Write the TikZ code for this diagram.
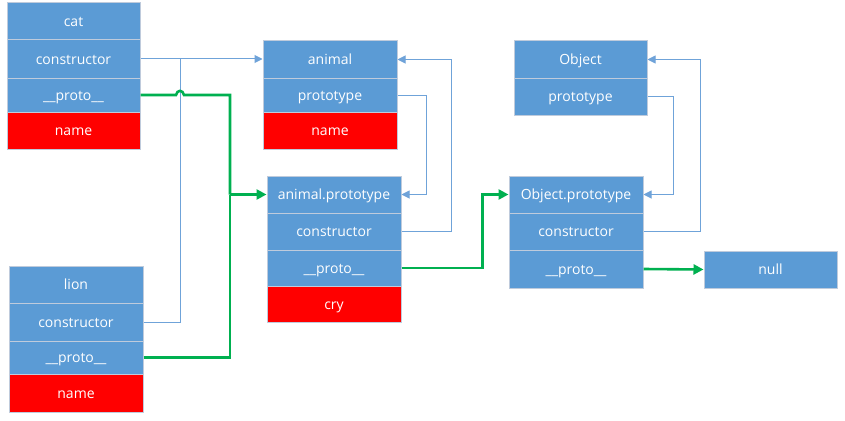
\documentclass[tikz,border=0pt]{standalone}
\usepackage{fontspec}
\setmainfont{Open Sans}
\usetikzlibrary{arrows.meta}
\definecolor{cellblue}{HTML}{5B9BD5}
\definecolor{cellred}{HTML}{FF0000}
\definecolor{cellline}{HTML}{BFCBDC}
\definecolor{linkblue}{HTML}{6FA3D9}
\definecolor{linkgreen}{HTML}{00B050}
\tikzset{
  cell/.style={draw=cellline, line width=1pt, fill=cellblue, text=white, inner sep=0pt,
    font=\fontsize{14}{16}\selectfont, anchor=center, text depth=0pt, text height=10pt},
  bluecell/.style={cell},
  redcell/.style={cell, fill=cellred},
  bluelink/.style={draw=linkblue, line width=1pt},
  bluearrow/.style={bluelink, -{Triangle[length=8pt,width=8pt]}},
  greenlink/.style={draw=linkgreen, line width=2.6pt},
  greenarrow/.style={greenlink, -{Triangle[length=10pt,width=10pt]}},
}
\begin{document}
\begin{tikzpicture}[x=1pt,y=-1pt]
\useasboundingbox[fill=white] (0,0) rectangle (845,420);
% cat
\node[bluecell, minimum width=133pt, minimum height=37pt] (cat) at (73.5,21.5) {cat};
\node[bluecell, minimum width=133pt, minimum height=38pt] (catc) at (73.5,59) {constructor};
\node[bluecell, minimum width=133pt, minimum height=34pt] (catp) at (73.5,95) {\_\_proto\_\_};
\node[redcell, minimum width=133pt, minimum height=37pt] (catn) at (73.5,130.5) {name};
% animal
\node[bluecell, minimum width=134pt, minimum height=37pt] (an) at (330,59.5) {animal};
\node[bluecell, minimum width=134pt, minimum height=34pt] (anp) at (330,95) {prototype};
\node[redcell, minimum width=134pt, minimum height=37pt] (ann) at (330,130.5) {name};
% animal.prototype
\node[bluecell, minimum width=134pt, minimum height=37pt] (apt) at (334,194.5) {animal.prototype};
\node[bluecell, minimum width=134pt, minimum height=37pt] (aptc) at (334,231.5) {constructor};
\node[bluecell, minimum width=134pt, minimum height=36pt] (aptp) at (334,268) {\_\_proto\_\_};
\node[redcell, minimum width=134pt, minimum height=36pt] (aptn) at (334,304) {cry};
% Object
\node[bluecell, minimum width=133pt, minimum height=37pt] (obj) at (580.5,59.5) {Object};
\node[bluecell, minimum width=133pt, minimum height=37pt] (objp) at (580.5,96.5) {prototype};
% Object.prototype
\node[bluecell, minimum width=134pt, minimum height=37pt] (opt) at (576,194.5) {Object.prototype};
\node[bluecell, minimum width=134pt, minimum height=37pt] (optc) at (576,231.5) {constructor};
\node[bluecell, minimum width=134pt, minimum height=38pt] (optp) at (576,269) {\_\_proto\_\_};
% null
\node[bluecell, minimum width=133pt, minimum height=37pt] (null) at (770.5,269.5) {null};
% lion
\node[bluecell, minimum width=134pt, minimum height=37pt] (lion) at (76,284.5) {lion};
\node[bluecell, minimum width=134pt, minimum height=38pt] (lionc) at (76,322) {constructor};
\node[bluecell, minimum width=134pt, minimum height=33pt] (lionp) at (76,357.5) {\_\_proto\_\_};
\node[redcell, minimum width=134pt, minimum height=38pt] (lionn) at (76,393) {name};
% junction coordinates
\coordinate (bj) at (180,59);
\coordinate (h1) at (176,95);
\coordinate (h2) at (184,95);
\coordinate (gj) at (230,194.5);
% constructor links to animal
\draw[bluearrow] (catc.east) -- (an.west |- catc.east);
\draw[bluelink] (lionc.east) -| (bj);
% proto links to animal.prototype
\draw[greenlink] (catp.east) -- (h1) .. controls (177,89.5) and (183,89.5) .. (h2) -| (gj);
\draw[greenlink] (lionp.east) -| (gj);
\draw[greenarrow] (gj) -- (apt.west);
% animal.prototype links
\draw[bluearrow] (anp.east) -- ++(29,0) |- (apt.east);
\draw[bluearrow] (aptc.east) -- ++(50,0) |- (an.east);
\draw[greenarrow] (aptp.east) -- ++(81,0) |- (opt.west);
% Object links
\draw[bluearrow] (objp.east) -- ++(26,0) |- (opt.east);
\draw[bluearrow] (optc.east) -- ++(57,0) |- (obj.east);
\draw[greenarrow] (optp.east) -- (null.west);
\end{tikzpicture}
\end{document}
